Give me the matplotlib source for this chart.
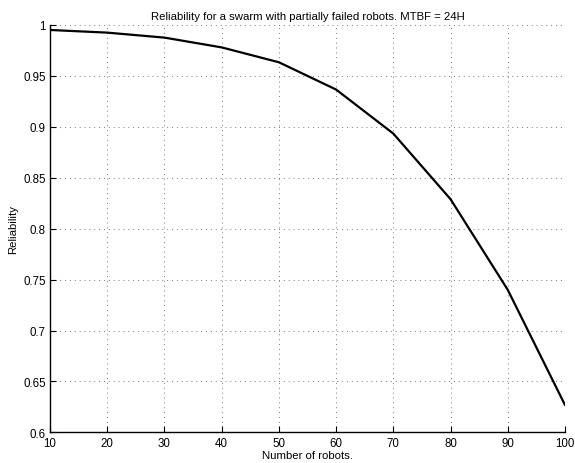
import matplotlib
matplotlib.use("Agg")
import matplotlib.pyplot as plt

# Reliability vs swarm size
robots = [10, 20, 30, 40, 50, 60, 70, 80, 90, 100]
reliability = [0.9951, 0.9925, 0.9876, 0.978, 0.9634, 0.9366, 0.8934, 0.829, 0.740, 0.627]

xticks = [10, 20, 30, 40, 50, 60, 70, 80, 90, 100]
yticks = [0.6, 0.65, 0.7, 0.75, 0.8, 0.85, 0.9, 0.95, 1]
ytick_labels = ['0.6', '0.65', '0.7', '0.75', '0.8', '0.85', '0.9', '0.95', '1']

plt.rcParams['font.family'] = ['Liberation Sans', 'DejaVu Sans']
plt.rcParams['font.size'] = 8

fig = plt.figure(figsize=(5.75, 4.64), dpi=100)
ax = fig.add_axes([0.087, 0.066, 0.8955, 0.878])

ax.plot(robots, reliability, color='black', linewidth=1.6)

ax.set_xlim(10, 100)
ax.set_ylim(0.6, 1)
ax.set_xticks(xticks)
ax.set_yticks(yticks)
ax.set_yticklabels(ytick_labels)
ax.tick_params(direction='in', length=4, width=0.8, labelsize=8.3)
ax.tick_params(axis='x', pad=3)
ax.tick_params(axis='y', pad=3)

# dotted grid, lighter than the axes
ax.grid(True, linestyle=(0, (1, 4)), color='#777777', linewidth=0.7)
ax.spines['top'].set_visible(False)
ax.spines['right'].set_visible(False)
ax.spines['left'].set_linewidth(1.0)
ax.spines['bottom'].set_linewidth(1.0)

ax.set_xlabel('Number of robots.', fontsize=8.2, labelpad=1)
ax.set_ylabel('Reliability', fontsize=8.2, labelpad=4)
ax.set_title('Reliability for a swarm with partially failed robots. MTBF = 24H', fontsize=8.2, pad=4)

plt.savefig('out.png')
